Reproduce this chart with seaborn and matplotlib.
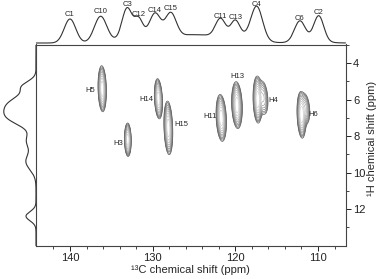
import numpy as np
import pandas as pd
import seaborn as sns
import matplotlib.pyplot as plt

# 2D cross peaks: label, 13C shift, 1H shift, widths (ppm), tilt, amplitude
peak_names = ["H5", "H3", "H14", "H15", "H11", "H13", "H4", "H6", "", ""]
peak_c = [136.1, 133.0, 129.3, 128.1, 121.7, 119.8, 117.3, 112.0, 116.6, 111.5]
peak_h = [5.4, 8.2, 5.95, 7.55, 7.0, 6.3, 6.0, 6.85, 5.9, 6.5]
peak_sc = [0.22, 0.18, 0.21, 0.23, 0.27, 0.28, 0.24, 0.23, 0.30, 0.28]
peak_sh = [0.55, 0.40, 0.48, 0.64, 0.56, 0.56, 0.56, 0.55, 0.50, 0.45]
peak_tilt = [0.05, 0.03, 0.10, 0.07, 0.10, 0.08, 0.05, 0.08, 0.15, 0.15]
peak_amp = [1.0, 1.0, 1.0, 1.0, 1.0, 1.0, 1.0, 1.0, 0.35, 0.35]

# label positions (ppm)
lab_c = [137.5, 134.1, 130.7, 126.5, 123.0, 119.8, 115.4, 110.6]
lab_h = [5.5, 8.4, 5.97, 7.37, 6.95, 4.73, 6.04, 6.83]

# 13C projection peaks
c_names = ["C1", "C10", "C3", "C12", "C14", "C15", "C11", "C13", "C4", "C6", "C2"]
c_pos = [140.0, 136.3, 133.1, 131.7, 129.7, 127.8, 121.8, 120.0, 117.4, 112.2, 109.9]
c_height = [24, 26, 30, 17, 22, 23, 18, 16, 33, 20, 25]
c_width = [0.7, 0.75, 0.6, 0.5, 0.65, 0.65, 0.6, 0.55, 0.7, 0.65, 0.6]
c_label_y = [28, 31.3, 39, 29, 33, 34, 26.7, 25.7, 39, 24.7, 30.3]
# broad background humps under the 13C projection
bg_pos = [131.0, 124.5, 119.0, 111.0]
bg_height = [7, 8, 5, 3]
bg_width = [2.5, 3.0, 1.8, 1.5]

# 1H projection peaks
h_pos = [5.25, 6.25, 7.05, 8.25, 9.4, 12.4]
h_height = [11, 26, 21, 9, 10, 10]
h_width = [0.28, 0.5, 0.42, 0.4, 0.45, 0.25]

sns.set_style("ticks")
plt.rcParams["font.family"] = ["Liberation Sans", "DejaVu Sans"]

fig = plt.figure(figsize=(3.78, 2.79), dpi=100)
W, H = 378, 279
x0, x1, y0, y1 = 36, 345.5, 44.5, 245.7
ax = fig.add_axes([x0 / W, 1 - y1 / H, (x1 - x0) / W, (y1 - y0) / H])
axt = fig.add_axes([x0 / W, 1 - 44 / H, (x1 - x0) / W, 42 / H])
axl = fig.add_axes([0, 1 - y1 / H, x0 / W, (y1 - y0) / H])

xlim = (144.11, 106.67)
ylim = (14.02, 2.97)

# contour spectrum
cc = np.linspace(106, 145, 500)
hh = np.linspace(2.9, 14.1, 500)
C, Hh = np.meshgrid(cc, hh)
Z = np.zeros_like(C)
for c, h, sc, sh, t, a in zip(peak_c, peak_h, peak_sc, peak_sh, peak_tilt, peak_amp):
    dc = (C - c) + t * (Hh - h)
    dh = Hh - h
    Z += a * np.exp(-dc**2 / (2 * sc**2) - dh**2 / (2 * sh**2))
levels = 0.07 * 1.3 ** np.arange(11)
levels = levels[levels < 0.95]
cols = [plt.cm.gray(v) for v in np.linspace(0.3, 0.8, len(levels))]
ax.contour(C, Hh, Z, levels=levels, colors=cols, linewidths=0.45)
for n, c, h in zip(peak_names, lab_c, lab_h):
    ax.text(c, h, n, fontsize=5.5, ha="center", va="center")

ax.set_xlim(xlim)
ax.set_ylim(ylim)
ax.set_xticks([140, 130, 120, 110])
ax.set_xticks(np.arange(108, 144, 2), minor=True)
ax.set_yticks([4, 6, 8, 10, 12])
ax.set_yticks(np.arange(3, 14, 1), minor=True)
ax.yaxis.tick_right()
ax.yaxis.set_label_position("right")
ax.tick_params(which="major", length=3.5, width=0.7, labelsize=8, pad=2, colors="#222222")
ax.tick_params(which="minor", length=2, width=0.6)
for s in ax.spines.values():
    s.set_linewidth(0.8)
    s.set_color("#444444")
ax.set_xlabel("¹³C chemical shift (ppm)", fontsize=8, labelpad=1)
ax.set_ylabel("¹H chemical shift (ppm)", fontsize=8)
ax.yaxis.set_label_coords(1.068, 0.535)

# 13C projection
xs = np.linspace(xlim[1], xlim[0], 800)
ys = np.zeros_like(xs)
for p, hgt, w in zip(c_pos + bg_pos, c_height + bg_height, c_width + bg_width):
    ys += hgt * np.exp(-(xs - p) ** 2 / (2 * w**2))
top = pd.DataFrame({"ppm": xs, "I": ys})
sns.lineplot(data=top, x="ppm", y="I", ax=axt, color="#333333", linewidth=0.8)
for n, p, ly in zip(c_names, c_pos, c_label_y):
    axt.text(p, ly, n, fontsize=5.5, ha="center", va="center", clip_on=False)
axt.set_xlim(xlim)
axt.set_ylim(-1, 41)
axt.axis("off")

# 1H projection
hs = np.linspace(ylim[1], ylim[0], 800)
hi = np.zeros_like(hs)
for p, hgt, w in zip(h_pos, h_height, h_width):
    hi += hgt * np.exp(-(hs - p) ** 2 / (2 * w**2))
left = pd.DataFrame({"ppm": hs, "I": hi})
sns.lineplot(data=left, x="I", y="ppm", ax=axl, color="#333333", linewidth=0.8,
             sort=False, estimator=None)
axl.set_xlim(36, 0)
axl.set_ylim(ylim)
axl.axis("off")

fig.savefig("out.png", dpi=100)
